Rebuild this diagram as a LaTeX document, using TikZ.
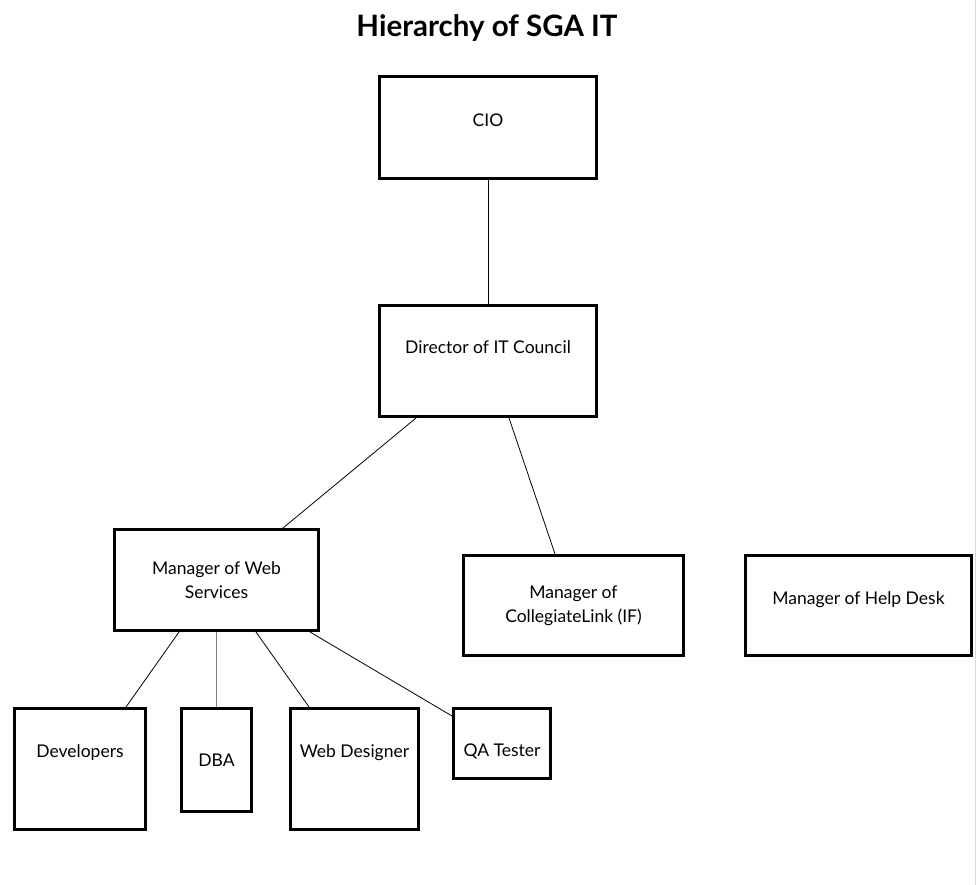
\documentclass[tikz,border=0pt]{standalone}
\usepackage{fontspec}
\setmainfont{Lato}
\tikzset{
    box/.style={draw, line width=3pt, inner sep=0pt, align=center, font=\fontsize{17.5}{24}\selectfont},
    link/.style={line width=0.8pt}
}
\begin{document}
\begin{tikzpicture}[x=1pt, y=-1pt]
                \useasboundingbox (0,0) rectangle (977,885);
                \draw[gray!30, line width=1.5pt] (975.5,0) -- (975.5,885);

                \node (title) at (487,28) {\fontsize{29.5}{32}\selectfont\textbf{Hierarchy of SGA IT}};

                \node[box, minimum width=217pt, minimum height=102pt, text height=12pt, text depth=13pt] (cio) at (488,127.5) {CIO};
                \node[box, minimum width=217pt, minimum height=111pt, text height=12pt, text depth=27pt] (director) at (488,361) {Director of IT Council};

                \node[box, minimum width=204pt, minimum height=101pt] (mgrweb) at (216.5,580) {Manager of Web\\Services};
                \node[box, minimum width=220pt, minimum height=100pt] (mgrlink) at (573.5,605.5) {Manager of\\CollegiateLink (IF)};
                \node[box, minimum width=226pt, minimum height=100pt, text height=12pt, text depth=14pt] (mgrhelp) at (858.5,605.5) {Manager of Help Desk};

                \node[box, minimum width=131pt, minimum height=121pt, text height=12pt, text depth=35pt] (dev) at (80,769) {Developers};
                \node[box, minimum width=70pt, minimum height=103pt, text height=12pt, text depth=0pt] (dba) at (216.5,760) {DBA};
                \node[box, minimum width=128pt, minimum height=121pt, text height=12pt, text depth=35pt] (webdes) at (354.5,769) {Web Designer};
                \node[box, minimum width=97pt, minimum height=70pt, text height=26pt, text depth=0pt] (qa) at (502,743.5) {QA Tester};

                \draw[link] (cio) -- (director);
                \draw[link] ([xshift=-72pt]director.south) -- ([xshift=66.5pt]mgrweb.north);
                \draw[link] ([xshift=21pt]director.south) -- ([xshift=-18.5pt]mgrlink.north);

                \draw[link] ([xshift=-37.5pt]mgrweb.south) -- ([xshift=46pt]dev.north);
                \draw[link, gray] (mgrweb.south) -- (dba.north);
                \draw[link] ([xshift=39.5pt]mgrweb.south) -- ([xshift=-45.5pt]webdes.north);
                \draw[link] ([xshift=93.5pt]mgrweb.south) -- ([yshift=-9pt]qa.north west);
\end{tikzpicture}
\end{document}
